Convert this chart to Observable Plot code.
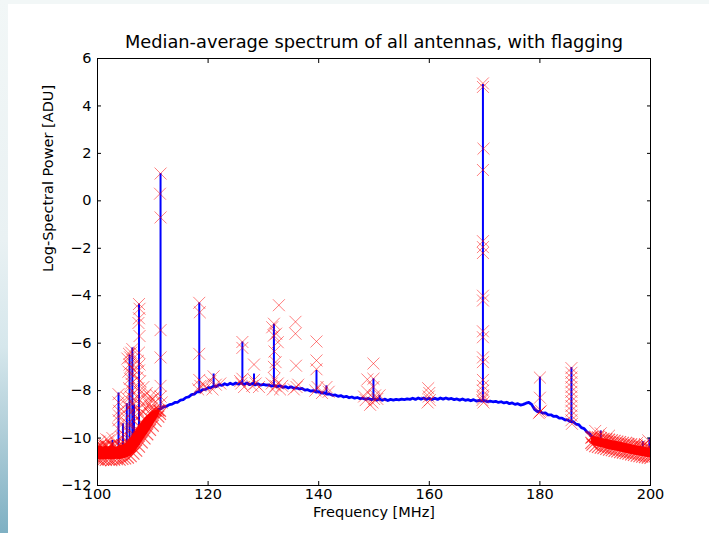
<!DOCTYPE html>
<html><head><meta charset="utf-8">
<script src="https://cdn.jsdelivr.net/npm/d3@7"></script>
<script src="https://cdn.jsdelivr.net/npm/@observablehq/plot@0.6"></script>
<style>
html,body{margin:0;padding:0;width:709px;height:533px;overflow:hidden;background:#f2f7f7;}
#strip{position:absolute;left:0;top:0;width:8px;height:533px;background:linear-gradient(to bottom,#f2f7f7 0%,#e9f1f3 45%,#d6e7ec 65%,#b3d0da 80%,#7eb0c3 100%);}
#card{position:absolute;left:8px;top:4px;width:701px;height:529px;background:#ffffff;}
#chart{position:absolute;left:0;top:0;}
</style></head>
<body><div id="strip"></div><div id="card"></div><div id="chart"></div>
<script>
const titleText = "Median-average spectrum of all antennas, with flagging";
const xLabel = "Frequency [MHz]";
const yLabel = "Log-Spectral Power [ADU]";
const xTicks = [100, 120, 140, 160, 180, 200];
const yTicks = [-12, -10, -8, -6, -4, -2, 0, 2, 4, 6];

// median spectrum (blue line), sampled every 0.5 MHz
const medianFreq = [
  100,100.5,101,101.5,102,102.5,103,103.5,104,104.5,
  105,105.5,106,106.5,107,107.5,108,108.5,109,109.5,
  110,110.5,111,111.5,112,112.5,113,113.5,114,114.5,
  115,115.5,116,116.5,117,117.5,118,118.5,119,119.5,
  120,120.5,121,121.5,122,122.5,123,123.5,124,124.5,
  125,125.5,126,126.5,127,127.5,128,128.5,129,129.5,
  130,130.5,131,131.5,132,132.5,133,133.5,134,134.5,
  135,135.5,136,136.5,137,137.5,138,138.5,139,139.5,
  140,140.5,141,141.5,142,142.5,143,143.5,144,144.5,
  145,145.5,146,146.5,147,147.5,148,148.5,149,149.5,
  150,150.5,151,151.5,152,152.5,153,153.5,154,154.5,
  155,155.5,156,156.5,157,157.5,158,158.5,159,159.5,
  160,160.5,161,161.5,162,162.5,163,163.5,164,164.5,
  165,165.5,166,166.5,167,167.5,168,168.5,169,169.5,
  170,170.5,171,171.5,172,172.5,173,173.5,174,174.5,
  175,175.5,176,176.5,177,177.5,178,178.5,179,179.5,
  180,180.5,181,181.5,182,182.5,183,183.5,184,184.5,
  185,185.5,186,186.5,187,187.5,188,188.5,189,189.5,
  190,190.5,191,191.5,192,192.5,193,193.5,194,194.5,
  195,195.5,196,196.5,197,197.5,198,198.5,199,199.5,
  200];
const medianPower = [
  -10.72,-10.70,-10.74,-10.71,-10.73,-10.70,-10.72,-10.69,-10.71,-10.68,
  -10.66,-10.62,-10.55,-10.45,-10.30,-10.12,-9.90,-9.70,-9.50,-9.30,
  -9.12,-8.95,-8.80,-8.76,-8.68,-8.66,-8.59,-8.57,-8.50,-8.49,
  -8.40,-8.38,-8.29,-8.26,-8.17,-8.15,-8.05,-8.05,-7.96,-7.95,
  -7.88,-7.88,-7.81,-7.83,-7.75,-7.78,-7.71,-7.76,-7.69,-7.74,
  -7.68,-7.73,-7.67,-7.74,-7.68,-7.75,-7.70,-7.76,-7.71,-7.77,
  -7.74,-7.77,-7.76,-7.81,-7.78,-7.84,-7.79,-7.86,-7.83,-7.89,
  -7.84,-7.90,-7.88,-7.93,-7.91,-7.98,-7.96,-8.02,-8.00,-8.06,
  -8.04,-8.10,-8.09,-8.15,-8.14,-8.20,-8.18,-8.24,-8.21,-8.27,
  -8.24,-8.30,-8.27,-8.32,-8.29,-8.34,-8.32,-8.37,-8.33,-8.38,
  -8.35,-8.40,-8.35,-8.41,-8.36,-8.42,-8.37,-8.40,-8.37,-8.39,
  -8.36,-8.38,-8.35,-8.37,-8.32,-8.37,-8.31,-8.36,-8.31,-8.37,
  -8.32,-8.38,-8.32,-8.37,-8.31,-8.36,-8.31,-8.36,-8.33,-8.38,
  -8.35,-8.40,-8.35,-8.41,-8.38,-8.43,-8.38,-8.44,-8.41,-8.44,
  -8.42,-8.47,-8.44,-8.47,-8.45,-8.50,-8.47,-8.52,-8.49,-8.55,
  -8.52,-8.58,-8.55,-8.61,-8.58,-8.53,-8.50,-8.58,-8.78,-8.88,
  -8.88,-8.95,-8.94,-9.02,-9.02,-9.09,-9.08,-9.16,-9.16,-9.23,
  -9.23,-9.31,-9.31,-9.41,-9.43,-9.56,-9.60,-9.74,-9.82,-9.97,
  -10.00,-10.10,-10.10,-10.17,-10.18,-10.24,-10.24,-10.32,-10.31,-10.38,
  -10.38,-10.45,-10.44,-10.51,-10.50,-10.57,-10.56,-10.62,-10.61,-10.67,
  -10.68];

// narrow-band RFI spikes (blue vertical lines)
const spikeFreq = [102.7,103.8,104.6,105.3,105.8,106.3,106.6,107.5,111.4,118.4,121.0,126.2,128.3,131.9,139.6,141.4,149.9,151.0,169.7,180.0,185.7,191.0,198.6,199.8];
const spikeBase = [-10.7,-10.7,-10.7,-10.65,-10.6,-10.5,-10.45,-10.3,-8.76,-8.05,-7.81,-7.67,-7.73,-7.78,-8.06,-8.15,-8.38,-8.35,-8.44,-8.88,-9.31,-10.1,-10.62,-10.68];
const spikeTop  = [-10.1,-8.1,-9.4,-8.55,-6.5,-6.2,-8.6,-4.35,1.15,-4.3,-7.3,-5.95,-7.3,-5.2,-7.15,-7.8,-7.5,-8.2,4.9,-7.43,-7.03,-9.7,-10.15,-10.0];

// densely flagged band edges: envelope of flagged samples
const lowBandFreq = [100,100.5,101,101.5,102,102.5,103,103.5,104,104.5,105,105.5,106,106.5,107,107.5,108,108.5,109,109.5,110,110.5,111,111.3];
const lowBandHigh = [-10.36,-10.32,-10.39,-10.34,-10.38,-10.31,-10.36,-10.39,-10.32,-10.30,-10.26,-10.18,-10.02,-9.85,-9.68,-9.50,-9.35,-9.20,-9.06,-8.96,-8.88,-8.84,-8.82,-8.85];
const lowBandLow  = [-10.90,-10.93,-10.91,-10.92,-10.90,-10.93,-10.91,-10.89,-10.91,-10.88,-10.86,-10.82,-10.76,-10.66,-10.53,-10.36,-10.18,-10.01,-9.84,-9.66,-9.48,-9.28,-9.10,-8.98];
const highBandFreq = [189.3,189.5,190,190.5,191,191.5,192,192.5,193,193.5,194,194.5,195,195.5,196,196.5,197,197.5,198,198.5,199,199.5,200];
const highBandHigh = [-9.98,-9.95,-9.95,-9.97,-10.00,-10.03,-10.05,-10.07,-10.10,-10.12,-10.15,-10.17,-10.20,-10.22,-10.25,-10.27,-10.30,-10.32,-10.35,-10.37,-10.39,-10.41,-10.43];
const highBandLow  = [-10.20,-10.28,-10.34,-10.37,-10.40,-10.42,-10.46,-10.49,-10.51,-10.54,-10.56,-10.59,-10.61,-10.64,-10.66,-10.69,-10.71,-10.74,-10.76,-10.78,-10.80,-10.82,-10.84];

// individually flagged samples [MHz, log power]
const flaggedPoints = [
  [100.4,-10.15],[101.2,-10.25],[102.0,-10.1],[102.7,-10.0],[103.3,-10.2],[104.3,-9.95],[101.6,-10.05],
  [103.8,-8.15],[103.8,-8.5],[103.9,-8.85],[103.8,-9.25],[103.7,-9.6],[103.9,-9.05],
  [104.6,-9.3],[104.8,-8.9],[105.0,-9.6],[105.2,-8.6],[105.3,-8.3],[104.9,-9.9],[105.5,-9.4],
  [105.4,-6.65],[105.7,-6.45],[105.9,-6.6],[106.1,-6.4],[106.3,-6.25],[105.8,-6.9],[106.0,-7.0],
  [105.6,-7.2],[106.2,-7.3],[105.9,-7.5],[106.1,-7.7],[105.7,-7.9],[106.3,-8.0],[106.0,-8.25],
  [106.4,-8.5],[105.8,-8.7],[106.2,-8.9],[106.6,-8.35],[106.8,-8.7],[106.5,-7.1],[106.7,-9.1],[106.2,-9.4],
  [107.5,-4.35],[107.6,-4.55],[107.5,-4.95],[107.4,-5.15],[107.6,-5.7],[107.5,-6.4],[107.3,-6.75],
  [107.6,-6.9],[107.5,-7.15],[107.2,-7.45],[107.7,-7.6],[107.4,-7.9],[107.8,-8.1],[107.5,-8.35],
  [108.0,-8.6],[107.3,-8.8],[107.9,-9.0],[108.2,-8.9],
  [108.3,-7.85],[108.6,-8.2],[109.0,-8.45],[109.6,-8.4],[108.8,-8.7],[109.3,-8.6],[110.0,-8.35],
  [110.4,-8.5],[109.8,-8.75],[110.6,-8.2],[108.9,-8.1],[109.5,-8.25],
  [111.4,1.15],[111.3,0.3],[111.4,-0.7],[111.4,-5.45],[111.4,-6.6],[111.4,-7.8],[111.4,-8.25],[111.6,-8.5],
  [118.4,-4.3],[118.5,-4.7],[118.4,-6.45],[118.4,-7.55],[118.6,-7.8],[118.2,-7.95],[119.2,-7.75],
  [119.6,-7.9],[120.4,-7.6],[121.0,-7.4],[121.4,-7.75],[120.8,-7.95],[122.2,-7.7],
  [126.2,-5.95],[126.2,-6.2],[126.2,-7.5],[126.0,-7.7],[126.5,-7.85],[125.8,-7.6],
  [128.3,-6.9],[128.3,-7.55],[128.0,-7.8],[128.6,-7.7],[129.2,-7.85],
  [131.9,-5.18],[131.6,-5.33],[132.3,-5.6],[131.9,-5.68],[132.0,-6.35],[132.2,-6.8],[131.9,-7.0],
  [132.8,-4.4],[132.6,-5.96],[132.0,-7.5],[132.2,-7.8],[131.7,-7.95],[132.6,-7.7],[133.0,-7.95],
  [133.4,-7.8],[131.5,-7.7],
  [135.8,-5.1],[135.8,-5.6],[135.9,-6.95],[136.0,-7.85],[135.5,-7.95],[136.3,-7.75],
  [139.6,-5.93],[139.6,-6.73],[139.6,-7.1],[139.8,-7.85],[139.4,-8.0],[141.4,-7.85],[141.8,-8.05],[140.6,-8.1],
  [148.8,-7.53],[148.8,-8.05],[149.9,-6.86],[149.9,-7.5],[149.9,-7.85],[150.2,-8.2],[149.7,-8.5],
  [148.5,-8.4],[149.3,-8.6],[150.6,-8.35],[151.0,-8.2],[150.0,-8.35],[148.2,-8.25],
  [159.8,-7.9],[160.0,-8.1],[159.9,-8.25],[160.1,-8.4],[159.7,-8.5],
  [169.7,4.95],[169.7,4.8],[169.8,2.2],[169.7,1.3],[169.7,-1.7],[169.7,-1.95],[169.7,-2.2],
  [169.7,-4.0],[169.7,-4.2],[169.7,-5.5],[169.7,-5.75],[169.7,-6.6],[169.7,-6.8],[169.7,-7.55],
  [169.7,-7.8],[169.7,-8.0],[169.7,-8.2],[169.6,-8.4],[169.8,-8.5],[169.7,-8.3],
  [180.0,-7.45],[180.0,-8.3],[180.0,-8.9],[179.8,-8.95],[180.2,-8.85],
  [185.7,-7.05],[185.7,-7.25],[185.7,-7.45],[185.7,-7.65],[185.7,-7.85],[185.7,-8.05],[185.7,-8.25],
  [185.7,-8.45],[185.7,-8.65],[185.7,-8.85],[185.7,-9.05],[185.7,-9.25],[185.8,-9.4],
  [190.0,-9.7],[191.0,-9.8],[192.5,-9.9],[197.6,-10.2],[199.6,-10.1],[199.0,-10.25]
];

const median = medianFreq.map((f, i) => ({f, v: medianPower[i]}));
const spikes = spikeFreq.map((f, i) => ({f, y1: spikeBase[i], y2: spikeTop[i]}));
const bands = [
  ...lowBandFreq.map((f, i) => ({band: "low", f, hi: lowBandHigh[i], lo: lowBandLow[i]})),
  ...highBandFreq.map((f, i) => ({band: "high", f, hi: highBandHigh[i], lo: highBandLow[i]}))
];
const flags = flaggedPoints.map(([f, v]) => ({f, v}));

const fmt = d => d < 0 ? "\u2212" + Math.abs(d) : String(d);
const RED = "#ff0000", BLUE = "#0000ff";
const xSym = {symbol: "times", r: 5.5, stroke: RED, strokeOpacity: 0.5, strokeWidth: 1, clip: true};
const bandSym = {symbol: "times", r: 5.5, stroke: RED, strokeOpacity: 0.65, strokeWidth: 1.1, clip: true};

const chart = Plot.plot({
  width: 709, height: 533,
  marginLeft: 97, marginRight: 59, marginTop: 58, marginBottom: 48,
  style: {background: "transparent", fontFamily: "'DejaVu Sans', sans-serif", fontSize: "14.5px", color: "#000", overflow: "visible"},
  x: {domain: [100, 200]},
  y: {domain: [-12, 6]},
  marks: [
    Plot.lineY(median, {x: "f", y: "v", stroke: BLUE, strokeWidth: 2.8, clip: true}),
    Plot.ruleX(spikes, {x: "f", y1: "y1", y2: "y2", stroke: BLUE, strokeWidth: 2}),
    Plot.areaY(bands, {x: "f", y1: "lo", y2: "hi", z: "band", fill: RED, curve: "linear", clip: true}),
    Plot.dot(bands, {x: "f", y: "hi", ...bandSym}),
    Plot.dot(bands, {x: "f", y: "lo", ...bandSym}),
    Plot.dot(flags, {x: "f", y: "v", ...xSym}),
    Plot.frame({stroke: "#000", strokeWidth: 1}),
    Plot.axisX({ticks: xTicks, tickSize: -4, tickPadding: 7, tickFormat: fmt, label: null, fontSize: 14.5}),
    Plot.axisX({anchor: "top", ticks: xTicks, tickSize: -4, tickFormat: () => "", label: null}),
    Plot.axisY({ticks: yTicks, tickSize: -4, tickPadding: 10, tickFormat: fmt, label: null, fontSize: 14.5}),
    Plot.axisY({anchor: "right", ticks: yTicks, tickSize: -4, tickFormat: () => "", label: null}),
    Plot.text([titleText], {frameAnchor: "top", dy: -16.5, lineAnchor: "middle", fontSize: 17.8}),
    Plot.text([xLabel], {frameAnchor: "bottom", dy: 27, lineAnchor: "middle", fontSize: 14.5}),
    Plot.text([yLabel], {frameAnchor: "left", dx: -49, rotate: -90, lineAnchor: "middle", fontSize: 14.5})
  ]
});
document.getElementById("chart").appendChild(chart);
</script></body></html>
